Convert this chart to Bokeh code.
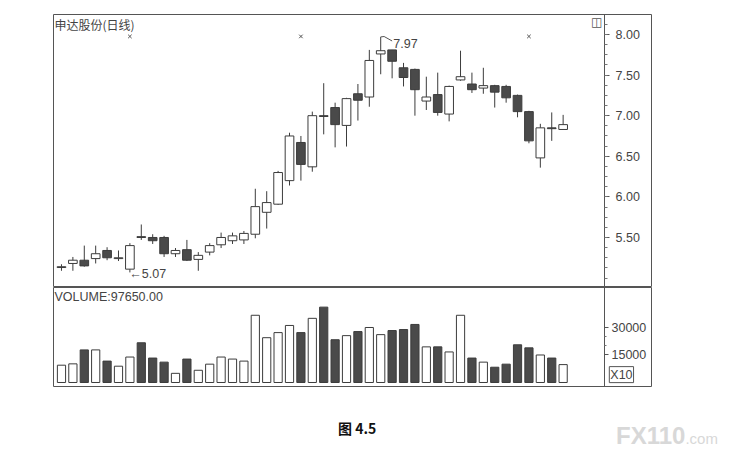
from bokeh.plotting import figure
from bokeh.layouts import column
from bokeh.models import (Range1d, LinearAxis, FixedTicker, NumeralTickFormatter,
                          Label, ColumnDataSource, Div)
from bokeh.embed import file_html
from bokeh.resources import INLINE

# daily candles, 申达股份
title = "申达股份(日线)"
days = list(range(1, 46))
opens = [5.13, 5.18, 5.22, 5.24, 5.34, 5.24, 5.11, 5.51, 5.50, 5.50,
         5.30, 5.35, 5.23, 5.32, 5.41, 5.46, 5.47, 5.54, 5.81, 5.91,
         6.20, 6.67, 6.37, 7.00, 7.10, 6.88, 7.27, 7.23, 7.76, 7.81,
         7.59, 7.57, 7.18, 7.26, 7.02, 7.44, 7.39, 7.34, 7.37, 7.36,
         7.25, 7.05, 6.48, 6.85, 6.83]
highs = [5.17, 5.26, 5.40, 5.40, 5.38, 5.34, 5.43, 5.66, 5.54, 5.52,
         5.37, 5.47, 5.32, 5.43, 5.56, 5.56, 5.58, 6.10, 6.07, 6.32,
         6.79, 6.75, 7.05, 7.40, 7.16, 7.22, 7.39, 7.81, 7.97, 7.81,
         7.65, 7.58, 7.48, 7.53, 7.37, 7.80, 7.53, 7.59, 7.38, 7.38,
         7.26, 7.06, 6.90, 7.04, 7.01]
lows = [5.09, 5.09, 5.14, 5.18, 5.22, 5.21, 5.07, 5.47, 5.42, 5.26,
        5.26, 5.21, 5.09, 5.28, 5.37, 5.42, 5.42, 5.49, 5.61, 5.90,
        6.14, 6.20, 6.31, 6.77, 6.61, 6.62, 6.94, 7.11, 7.51, 7.46,
        7.36, 7.00, 7.07, 7.00, 6.93, 7.43, 7.28, 7.27, 7.10, 7.16,
        6.98, 6.66, 6.36, 6.69, 6.83]
closes = [5.14, 5.22, 5.15, 5.30, 5.25, 5.25, 5.40, 5.50, 5.46, 5.30,
          5.34, 5.22, 5.28, 5.40, 5.50, 5.52, 5.55, 5.88, 5.93, 6.30,
          6.75, 6.40, 7.00, 6.99, 6.89, 7.21, 7.19, 7.68, 7.80, 7.67,
          7.47, 7.32, 7.23, 7.04, 7.36, 7.48, 7.32, 7.37, 7.29, 7.22,
          7.05, 6.69, 6.85, 6.84, 6.89]
# volume in units of 10 shares (X10)
volumes = [9440, 10170, 17780, 17780, 11670, 8890, 13890, 21670, 13330, 11110,
           5000, 12780, 6670, 10000, 13890, 12780, 11670, 36670, 24440, 27220,
           31110, 27220, 35000, 41110, 23330, 25560, 27780, 30000, 26110, 28330,
           28890, 31670, 19440, 19440, 16670, 36670, 13330, 11110, 8330, 10000,
           20560, 18890, 15000, 13330, 9765]
info_days = [7, 22, 42]
price_ticks = [5.5, 6.0, 6.5, 7.0, 7.5, 8.0]
volume_ticks = [15000, 30000]
caption = "图 4.5"

ink = "#3c3c3c"
dark = "#4a4a4a"
text_c = "#444444"
num_font = "Liberation Sans"
cjk_font = "Noto Sans CJK SC"

x_range = Range1d(0.3, 52.75)
axis_x = 48.63
price_top = 8.246

up = [c >= o for o, c in zip(opens, closes)]
src = ColumnDataSource(dict(
    x=days,
    high=highs,
    low=lows,
    top=[max(o, c) for o, c in zip(opens, closes)],
    bottom=[min(o, c) for o, c in zip(opens, closes)],
    fill=["white" if u else dark for u in up],
    vol=volumes,
))

# ---- price panel
p = figure(width=715, height=287, x_range=x_range,
           y_range=Range1d(4.884, price_top),
           x_axis_location=None, y_axis_location=None,
           toolbar_location=None, output_backend="svg",
           min_border_left=53, min_border_right=64,
           min_border_top=14, min_border_bottom=0)
p.grid.visible = False
p.outline_line_color = "#555555"
p.background_fill_color = "white"

p.segment(x0="x", y0="high", x1="x", y1="low", source=src,
          line_color=ink, line_width=1)
p.vbar(x="x", width=0.76, top="top", bottom="bottom", source=src,
       fill_color="fill", line_color=ink, line_width=1)

p.scatter(x=info_days, y=[price_top - 0.27] * len(info_days), marker="x",
          size=5, line_color="#555555", line_width=1)

pax = LinearAxis(fixed_location=axis_x,
                 ticker=FixedTicker(ticks=price_ticks,
                                    minor_ticks=[5.0 + 0.125 * k for k in range(27)]),
                 formatter=NumeralTickFormatter(format="0.00"))
pax.axis_line_color = "#555555"
pax.major_tick_in = 0
pax.major_tick_out = 5
pax.minor_tick_in = 0
pax.minor_tick_out = 3
pax.major_tick_line_color = "#555555"
pax.minor_tick_line_color = "#777777"
pax.major_label_standoff = 6
pax.major_label_text_font = num_font
pax.major_label_text_font_size = "12.5px"
pax.major_label_text_color = text_c
p.add_layout(pax, "right")

p.add_layout(Label(x=0.39, y=price_top - 0.015, text=title,
                   text_font=cjk_font, text_font_size="12px",
                   text_color=text_c, text_baseline="top", text_align="left"))
p.add_layout(Label(x=47.45, y=price_top - 0.01, text="◫",
                   text_font="DejaVu Sans", text_font_size="12px",
                   text_color="#555555", text_baseline="top", text_align="left"))

# extreme price marks
lo_i = lows.index(min(lows))
hi_i = highs.index(max(highs))
p.add_layout(Label(x=days[lo_i] - 0.05, y=lows[lo_i] - 0.025,
                   text="←%.2f" % lows[lo_i], text_font=num_font,
                   text_font_size="12.5px", text_color=text_c,
                   text_baseline="middle", text_align="left"))
hx = days[hi_i]
hy = highs[hi_i]
p.line(x=[hx, hx + 0.3, hx + 1.0], y=[hy, hy + 0.005, hy - 0.05],
       line_color="#555555", line_width=1)
p.add_layout(Label(x=hx + 1.1, y=hy - 0.075, text="%.2f" % hy,
                   text_font=num_font, text_font_size="12.5px",
                   text_color=text_c, text_baseline="middle", text_align="left"))

# ---- volume panel
v = figure(width=715, height=105, x_range=x_range,
           y_range=Range1d(-2182, 51818),
           x_axis_location=None, y_axis_location=None,
           toolbar_location=None, output_backend="svg",
           min_border_left=53, min_border_right=64,
           min_border_top=0, min_border_bottom=6)
v.grid.visible = False
v.outline_line_color = "#555555"

v.vbar(x="x", width=0.72, top="vol", bottom=0, source=src,
       fill_color="fill", line_color=ink, line_width=1)

vax = LinearAxis(fixed_location=axis_x,
                 ticker=FixedTicker(ticks=volume_ticks, minor_ticks=[20000, 25000]),
                 formatter=NumeralTickFormatter(format="0"))
vax.axis_line_color = "#555555"
vax.major_tick_in = 0
vax.major_tick_out = 4
vax.minor_tick_in = 0
vax.minor_tick_out = 2
vax.major_tick_line_color = "#555555"
vax.minor_tick_line_color = "#777777"
vax.major_label_standoff = 3
vax.major_label_text_font = num_font
vax.major_label_text_font_size = "12.5px"
vax.major_label_text_color = text_c
v.add_layout(vax, "right")

v.add_layout(Label(x=0.39, y=50600, text="VOLUME:%.2f" % (volumes[-1] * 10),
                   text_font=num_font, text_font_size="12.5px",
                   text_color=text_c, text_baseline="top", text_align="left"))
v.add_layout(Label(x=49.05, y=4300, text="X10", text_font=num_font,
                   text_font_size="12.5px", text_color=text_c,
                   text_baseline="middle", text_align="left",
                   border_line_color="#555555", padding=1))

# ---- caption and watermark below the chart
cap_html = (
    '<div style="position:relative;width:715px;height:60px;">'
    '<span style="position:absolute;left:333px;top:24px;line-height:1;'
    'font-family:\'%s\';font-weight:bold;font-size:14px;color:#111;">%s</span>'
    '<span style="position:absolute;left:611px;top:27px;line-height:1;'
    'font-family:\'%s\';color:#d8d8d8;white-space:nowrap;">'
    '<b style="font-size:24px;">FX110</b>'
    '<span style="font-size:15px;">.com</span></span>'
    '</div>' % (cjk_font, caption, num_font)
)
c = Div(text=cap_html, width=715, height=60)

layout = column(p, v, c, spacing=0)
open("out.html", "w").write(file_html(layout, INLINE))
